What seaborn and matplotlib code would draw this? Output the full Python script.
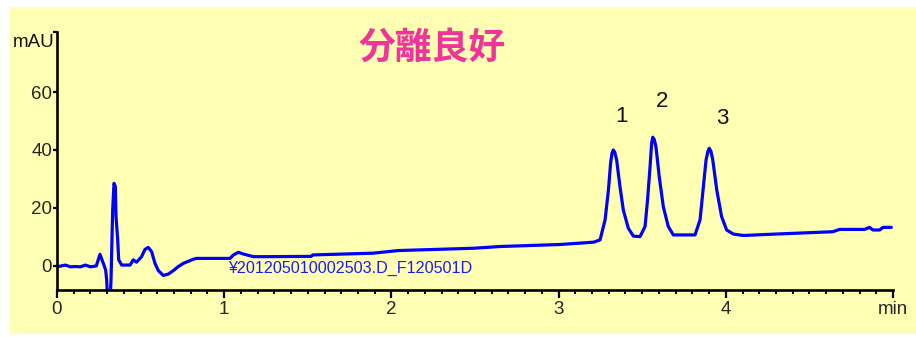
import matplotlib
matplotlib.use("Agg")
import matplotlib.pyplot as plt
from matplotlib.patches import Rectangle
from matplotlib.ticker import MultipleLocator
import pandas as pd
import seaborn as sns

# Chromatogram trace: retention time (min) and detector response (mAU)
time_min = [
    0.00, 0.05, 0.08, 0.11, 0.14, 0.17, 0.20, 0.235, 0.257, 0.277, 0.291, 0.297,
    0.303, 0.318, 0.323, 0.333, 0.341, 0.349, 0.353, 0.363, 0.369, 0.387, 0.437,
    0.456, 0.476, 0.506, 0.526, 0.546, 0.566, 0.586, 0.606, 0.636, 0.666, 0.696,
    0.726, 0.756, 0.815, 0.835, 1.035, 1.055, 1.085, 1.115, 1.175, 1.254, 1.52,
    1.53, 1.89, 2.04, 2.15, 2.49, 2.65, 3.01, 3.21, 3.248, 3.278, 3.298, 3.311,
    3.319, 3.327, 3.336, 3.347, 3.367, 3.387, 3.417, 3.447, 3.487, 3.517, 3.532,
    3.547, 3.556, 3.563, 3.572, 3.582, 3.602, 3.626, 3.656, 3.686, 3.816, 3.846,
    3.866, 3.882, 3.893, 3.901, 3.911, 3.922, 3.946, 3.975, 4.005, 4.045, 4.105,
    4.30, 4.64, 4.68, 4.83, 4.86, 4.88, 4.92, 4.94, 4.99,
]
response_mau = [
    -0.3, 0.3, -0.3, -0.2, -0.3, 0.3, -0.3, 0.0, 4.0, 0.9, -1.4, -4.8,
    -12.0, -12.0, -4.8, 19.3, 28.5, 27.4, 17.0, 9.0, 2.1, 0.3, 0.3,
    2.1, 1.3, 3.2, 5.7, 6.4, 4.9, 0.9, -1.6, -3.3, -2.8, -1.6,
    -0.2, 0.9, 2.3, 2.6, 2.6, 3.8, 4.7, 4.1, 3.2, 3.2, 3.3,
    3.8, 4.4, 5.3, 5.5, 6.1, 6.7, 7.4, 8.2, 9.0, 15.9, 26.2, 35.4,
    38.8, 40.0, 39.2, 36.6, 27.4, 19.3, 13.0, 10.3, 10.1, 13.6, 22.8,
    34.2, 42.0, 44.4, 43.6, 41.2, 30.8, 20.5, 13.6, 10.7, 10.7, 15.9,
    27.4, 36.6, 39.5, 40.6, 39.6, 36.6, 26.2, 17.0, 12.4, 11.0, 10.5,
    11.0, 11.8, 12.6, 12.6, 13.3, 12.4, 12.4, 13.3, 13.3,
]

# Peak numbering
peak_names = ["1", "2", "3"]
peak_label_time = [3.379, 3.618, 3.977]
peak_label_mau = [51.7, 56.6, 51.0]

x_tick_values = [0, 1, 2, 3, 4, 5]
x_tick_labels = ["0", "1", "2", "3", "4", "min"]
y_tick_values = [0, 20, 40, 60]
y_tick_labels = ["0", "20", "40", "60"]

title_text = "分離良好"
file_text = "¥201205010002503.D_F120501D"

sns.set_style("ticks")
plt.rcParams["font.family"] = ["Liberation Sans", "DejaVu Sans"]

W, H = 916, 337
fig = plt.figure(figsize=(W / 100, H / 100), dpi=100)
fig.patch.set_facecolor("white")
fig.patches.append(Rectangle((10 / W, 3 / H), 1 - 10 / W, (334 - 7) / H,
                             transform=fig.transFigure, facecolor="#FFFFB4",
                             edgecolor="none", zorder=-10))

ax = fig.add_axes([57 / W, 47 / H, (893 - 57) / W, (290 - 32) / H])
ax.set_facecolor("none")
ax.set_zorder(5)

df = pd.DataFrame({"time": time_min, "mAU": response_mau})
sns.lineplot(data=df, x="time", y="mAU", ax=ax, color="#0000FF",
             linewidth=2.3, sort=False, estimator=None)

ymin, ymax = -8.3, 80.7
ax.set_xlim(0, 5)
ax.set_ylim(ymin, ymax)

ax.set_xticks(x_tick_values)
ax.set_xticklabels(x_tick_labels)
ax.xaxis.set_minor_locator(MultipleLocator(0.1))
ax.set_yticks(y_tick_values + [ymax])
ax.set_yticklabels(y_tick_labels + [""])

for side in ("top", "right"):
    ax.spines[side].set_visible(False)
for side in ("left", "bottom"):
    ax.spines[side].set_linewidth(1.9)
    ax.spines[side].set_color("black")

ax.tick_params(axis="x", which="major", direction="out", length=6, width=1.6,
               labelsize=13.5, pad=2, color="black")
ax.tick_params(axis="x", which="minor", direction="out", length=3, width=1.4,
               color="black")
ax.tick_params(axis="y", which="major", direction="out", length=3, width=1.6,
               labelsize=13.5, pad=0.5, color="black")
ax.set_xlabel("")
ax.set_ylabel("")

ax.text(-0.003, 0.96, "mAU", transform=ax.transAxes, ha="right", va="center",
        fontsize=13.5, color="#111111")

for name, t, v in zip(peak_names, peak_label_time, peak_label_mau):
    ax.text(t, v, name, ha="center", va="center", fontsize=16, color="#111111")

ax.text(1.023, -1.0, file_text, ha="left", va="center", fontsize=11.6,
        color="#1A1AFF")

fig.text(432 / W, 1 - 48 / H, title_text, ha="center", va="center",
         fontsize=26.5, fontweight="bold", color="#F0359A",
         family=["Noto Sans CJK JP", "DejaVu Sans"], zorder=6)

fig.savefig("out.png", dpi=100)
